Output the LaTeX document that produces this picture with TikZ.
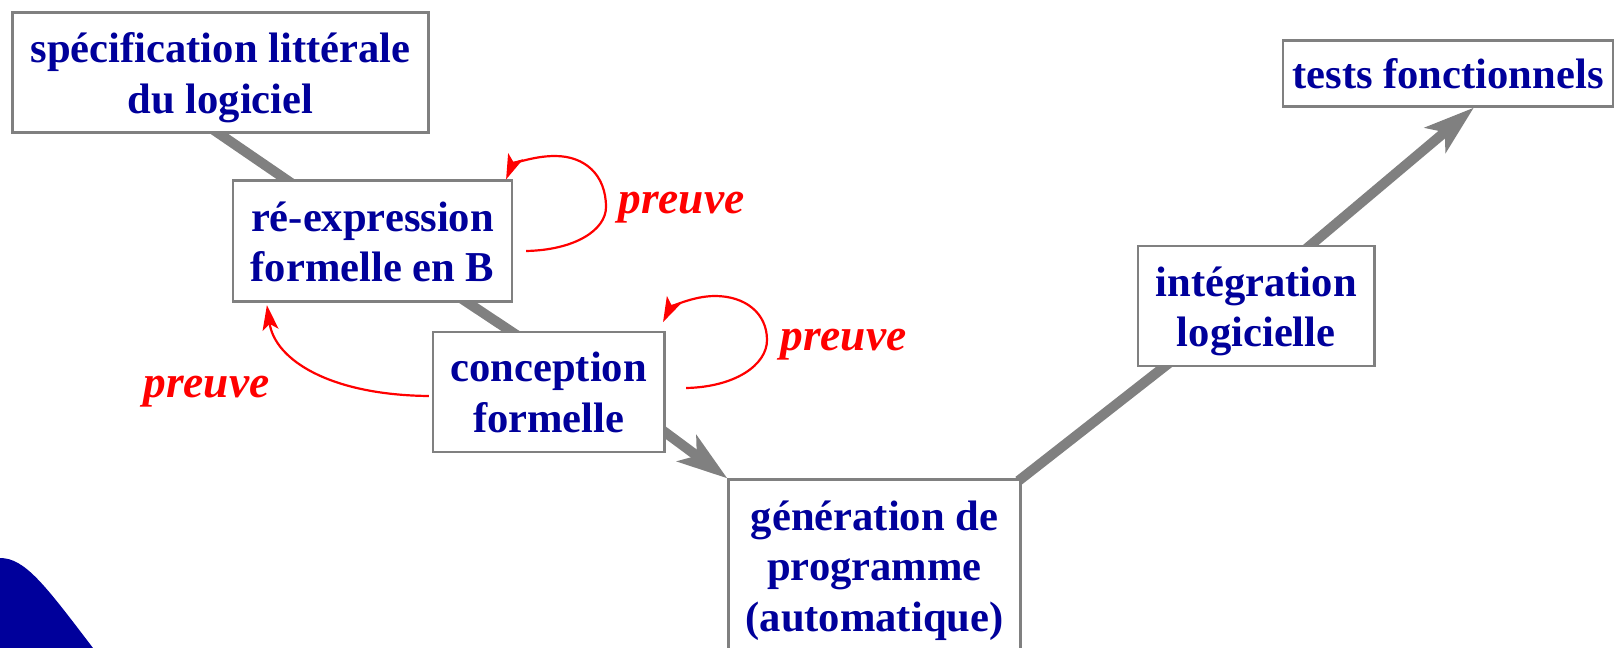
\documentclass[tikz,border=0pt]{standalone}
\usepackage{fontspec}
\setmainfont{Liberation Serif}
\usetikzlibrary{arrows.meta,calc,backgrounds}
\definecolor{dblue}{RGB}{0,0,155}
\definecolor{lgray}{RGB}{128,128,128}
\newcommand\mytopst{\rule{0pt}{21.4pt}}
\newcommand\mybotst{\rule[-6pt]{0pt}{6pt}}
\begin{document}
\begin{tikzpicture}[x=0.5pt,y=-0.5pt,
  box/.style={draw=lgray,line width=1.1pt,fill=white,text=dblue,
    font=\fontsize{21.3}{25.25}\selectfont\bfseries,align=center,inner sep=0pt},
  band/.style={draw=lgray,line width=5pt},
  bandarrow/.style={band,-{Stealth[length=25pt,width=16pt,inset=6pt]}},
  proof/.style={draw=red,line width=1.1pt,-{Stealth[length=12.5pt,width=8pt,inset=3pt]}},
  prlabel/.style={text=red,font=\fontsize{22.7}{26}\selectfont\bfseries\itshape,
    inner sep=0pt,anchor=base west}]
\useasboundingbox (0,0) rectangle (1619,648);
% blue blob
\fill[dblue] (0,558) .. controls (25,558) and (45,585) .. (93,648) -- (0,648) -- cycle;
% boxes
\node[box,minimum width=208pt,minimum height=60pt] (b1) at (220.5,72.5)
  {\mytopst spécification littérale\\du logiciel\mybotst};
\node[box,minimum width=139.5pt,minimum height=60.5pt] (b2) at (372.5,241)
  {\mytopst ré-expression\\formelle en B\mybotst};
\node[box,minimum width=115.75pt,minimum height=60pt] (b3) at (548.7,391.7)
  {\mytopst conception\\formelle\mybotst};
\node[box,minimum width=146pt,minimum height=86pt] (b4) at (874.5,565.5)
  {\mytopst génération de\\programme\\(automatique)\mybotst};
\node[box,minimum width=118.25pt,minimum height=60pt] (b5) at (1256.2,306)
  {\mytopst intégration\\logicielle\mybotst};
\node[box,minimum width=165pt,minimum height=33pt] (b6) at (1448,73.5)
  {\mytopst tests fonctionnels\mybotst};
% connection points
\coordinate (p1a) at ($(b1.south west)+(207.6,0)$);
\coordinate (p1b) at ($(b2.north west)+(54,0)$);
\coordinate (p2a) at ($(b2.south west)+(235.7,0)$);
\coordinate (p2b) at ($(b3.north west)+(78,0)$);
\coordinate (p3a) at ($(b3.north east)+(0,102)$);
\coordinate (p4b) at ($(b5.south west)+(27,0)$);
\coordinate (p5a) at ($(b5.north west)+(174,0)$);
\coordinate (p5b) at ($(b6.south west)+(192,0)$);
\begin{scope}[on background layer]
  \draw[band,shorten <=-8pt,shorten >=-8pt] (p1a) -- (p1b);
  \draw[band,shorten <=-8pt,shorten >=-8pt] (p2a) -- (p2b);
  \draw[bandarrow,shorten <=-8pt] (p3a) -- (b4.north west);
  \draw[band,shorten <=-2pt,shorten >=-8pt] (b4.north east) -- (p4b);
  \draw[bandarrow,shorten <=-8pt] (p5a) -- (p5b);
\end{scope}
% proof loops
\coordinate (t1) at ($(b2.east)+(13,10)$);
\coordinate (e1) at ($(b2.north east)+(-7,0)$);
\draw[proof] (t1) .. controls (575,250) and (606,230) .. (606,207)
  .. controls (606,175) and (585,156) .. (555,156)
  .. controls (532,156) and (512,165) .. (e1);
\coordinate (t2) at ($(b3.east)+(20.5,-3.7)$);
\coordinate (e2) at ($(b3.north east)+(-2.5,-8.5)$);
\draw[proof] (t2) .. controls (735,387) and (767,365) .. (767,340)
  .. controls (767,313) and (745,296) .. (715,296)
  .. controls (692,296) and (670,308) .. (e2);
\coordinate (t3) at ($(b3.west)+(-3,4.3)$);
\coordinate (e3) at ($(b2.south west)+(35,2.5)$);
\draw[proof] (t3) .. controls (330,395) and (275,360) .. (e3);
% labels
\node[prlabel] (l1) at (618,213) {preuve};
\node[prlabel] (l2) at (780,350) {preuve};
\node[prlabel] (l3) at (143,397) {preuve};
\end{tikzpicture}
\end{document}
